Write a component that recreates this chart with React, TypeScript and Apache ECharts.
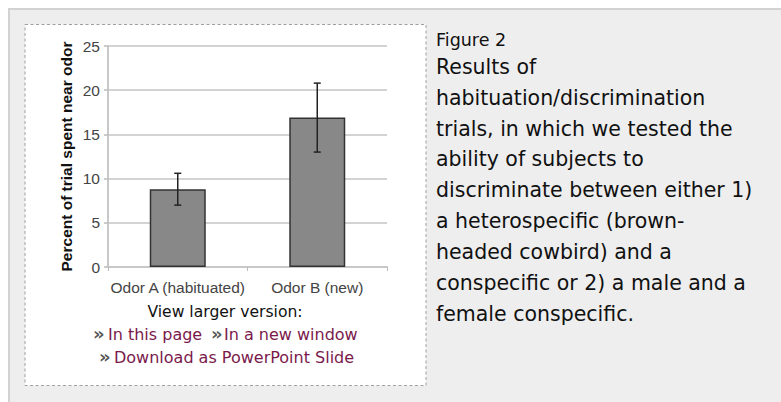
import React, { useEffect, useRef } from "react";
import * as echarts from "echarts";

const categories = ["Odor A (habituated)", "Odor B (new)"];
const means = [8.8, 16.9];
const errLow = [7.0, 13.0];
const errHigh = [10.6, 20.8];
const yTicks = { min: 0, max: 25, interval: 5 };
const yTitle = "Percent of trial spent near odor";
const captionTitle = "Figure 2";
const captionLines = [
  "Results of",
  "habituation/discrimination",
  "trials, in which we tested the",
  "ability of subjects to",
  "discriminate between either 1)",
  "a heterospecific (brown-",
  "headed cowbird) and a",
  "conspecific or 2) a male and a",
  "female conspecific.",
];
const viewLarger = "View larger version:";
const linkRow1 = ["In this page", "In a new window"];
const linkRow2 = "Download as PowerPoint Slide";

export default function App() {
  const ref = useRef<HTMLDivElement>(null);
  useEffect(() => {
    if (!ref.current) return;
    const chart = echarts.init(ref.current, undefined, { renderer: "svg" });
    const linkColor = "#7a1a4c";
    const arrowStyle = { fill: "#555", font: "bold 18px 'DejaVu Sans'" };
    const linkFont = "16px 'DejaVu Sans'";
    const chartFont = "'Liberation Sans'";
    const graphics: any[] = [
      {
        type: "rect",
        z: -20,
        silent: true,
        shape: { x: 9, y: 9, width: 790, height: 420 },
        style: { fill: "#eeeeee", stroke: "#d2d2d2", lineWidth: 2 },
      },
      {
        type: "rect",
        z: -19,
        silent: true,
        shape: { x: 25, y: 24.5, width: 401, height: 361 },
        style: { fill: "#ffffff", stroke: "#a0a0a0", lineWidth: 1, lineDash: [3, 2.5] },
      },
      {
        type: "text",
        x: 225,
        y: 312,
        style: { text: viewLarger, font: "15.6px 'DejaVu Sans'", fill: "#111", align: "center", verticalAlign: "middle" },
      },
      { type: "text", x: 93, y: 333, style: { text: "»", ...arrowStyle, verticalAlign: "middle" } },
      { type: "text", x: 108, y: 334, style: { text: linkRow1[0], font: linkFont, fill: linkColor, verticalAlign: "middle" } },
      { type: "text", x: 211, y: 333, style: { text: "»", ...arrowStyle, verticalAlign: "middle" } },
      { type: "text", x: 224, y: 334, style: { text: linkRow1[1], font: linkFont, fill: linkColor, verticalAlign: "middle" } },
      { type: "text", x: 99, y: 356, style: { text: "»", ...arrowStyle, verticalAlign: "middle" } },
      { type: "text", x: 114, y: 357, style: { text: linkRow2, font: linkFont, fill: linkColor, verticalAlign: "middle" } },
      {
        type: "text",
        x: 436,
        y: 40,
        style: { text: captionTitle, font: "17.5px 'DejaVu Sans'", fill: "#111", verticalAlign: "middle" },
      },
    ];
    captionLines.forEach((line, i) => {
      graphics.push({
        type: "text",
        x: 436,
        y: 66.7 + i * 30.9,
        style: { text: line, font: "20.5px 'DejaVu Sans'", fill: "#111", verticalAlign: "middle" },
      });
    });

    chart.setOption({
      animation: false,
      backgroundColor: "#ffffff",
      graphic: graphics,
      grid: { left: 108, right: 394, top: 46, bottom: 135, containLabel: false },
      xAxis: {
        type: "category",
        data: categories,
        axisLine: { show: true, lineStyle: { color: "#c8c8c8", width: 2 } },
        axisTick: { show: true, alignWithLabel: false, length: 4, lineStyle: { color: "#bbb", width: 1 } },
        axisLabel: {
          interval: 0,
          color: "#444",
          fontSize: 15.5,
          fontFamily: chartFont,
          margin: 12,
        },
      },
      yAxis: {
        type: "value",
        min: yTicks.min,
        max: yTicks.max,
        interval: yTicks.interval,
        name: yTitle,
        nameLocation: "middle",
        nameRotate: 90,
        nameGap: 34,
        nameTextStyle: { color: "#111", fontSize: 15.5, fontWeight: "bold", fontFamily: chartFont },
        axisLine: { show: true, lineStyle: { color: "#c8c8c8", width: 2 } },
        axisTick: { show: true, length: 4, lineStyle: { color: "#bbb", width: 1.5 } },
        axisLabel: { color: "#444", fontSize: 15.5, fontFamily: chartFont, margin: 8 },
        splitLine: { show: true, lineStyle: { color: "#c4c4c4", width: 1.5 } },
      },
      series: [
        {
          type: "bar",
          data: means,
          barWidth: 56,
          itemStyle: { color: "#888888", borderColor: "#333333", borderWidth: 1.5 },
          z: 3,
        },
        {
          type: "custom",
          z: 5,
          data: categories.map((_, i) => [i, errLow[i], errHigh[i]]),
          renderItem: (params: any, api: any) => {
            const x = api.value(0);
            const lo = api.coord([x, api.value(1)]);
            const hi = api.coord([x, api.value(2)]);
            const half = 3.5;
            const style = { stroke: "#222", lineWidth: 1.5, fill: "none" };
            return {
              type: "group",
              children: [
                { type: "line", shape: { x1: lo[0], y1: lo[1], x2: hi[0], y2: hi[1] }, style },
                { type: "line", shape: { x1: hi[0] - half, y1: hi[1], x2: hi[0] + half, y2: hi[1] }, style },
                { type: "line", shape: { x1: lo[0] - half, y1: lo[1], x2: lo[0] + half, y2: lo[1] }, style },
              ],
            };
          },
        },
      ],
    });
    return () => chart.dispose();
  }, []);
  return (
    <div
      ref={ref}
      style={{ position: "absolute", left: 0, top: 0, width: 781, height: 402 }}
    />
  );
}
